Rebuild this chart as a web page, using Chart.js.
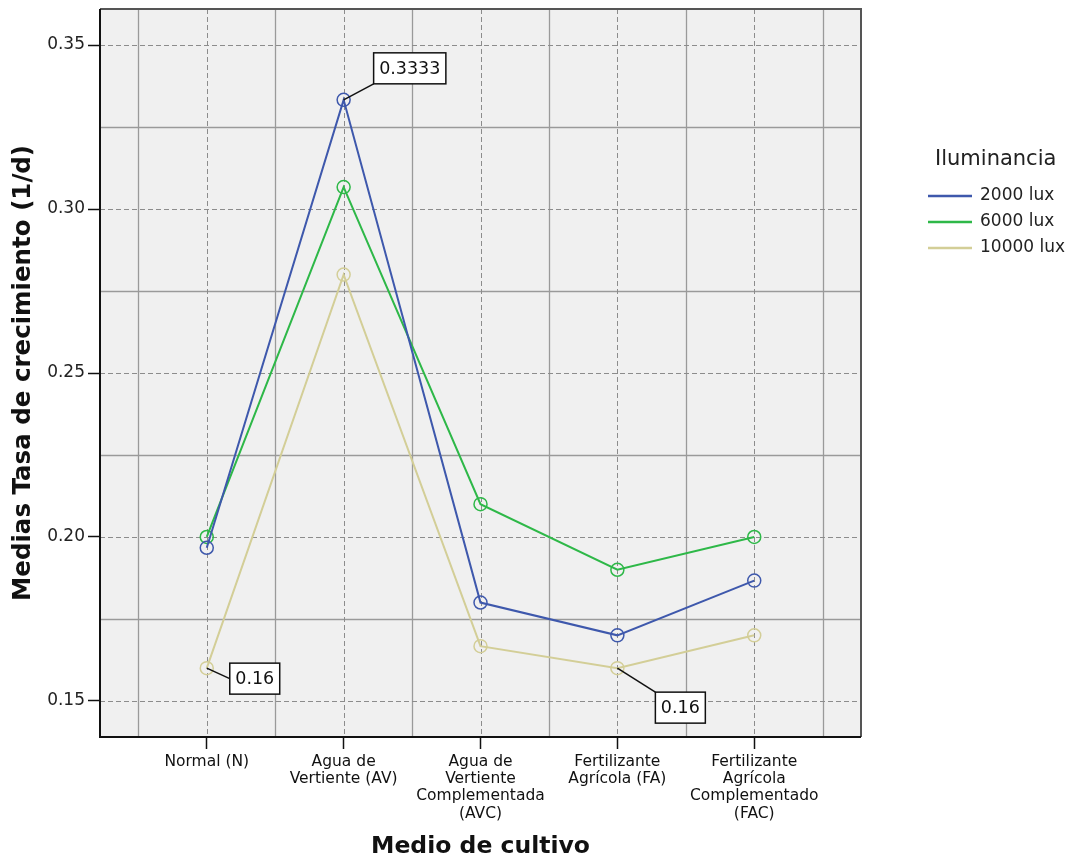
<!DOCTYPE html>
<html>
<head>
<meta charset="utf-8">
<script src="https://cdn.jsdelivr.net/npm/chart.js@4.4.1/dist/chart.umd.min.js"></script>
<style>
  body { margin: 0; background: #ffffff; }
  #wrap { width: 1077px; height: 860px; position: relative; }
</style>
</head>
<body>
<div id="wrap"><canvas id="chart"></canvas></div>
<script>
/* --------------- Data --------------------- */
const categories = [
    ["Normal (N)"],
    ["Agua de", "Vertiente (AV)"],
    ["Agua de", "Vertiente", "Complementada", "(AVC)"],
    ["Fertilizante", "Agrícola (FA)"],
    ["Fertilizante", "Agrícola", "Complementado", "(FAC)"],
];
const seriesNames = ["2000 lux", "6000 lux", "10000 lux"];
const lux2000 = [0.1967, 0.3333, 0.18, 0.17, 0.1867];
const lux6000 = [0.20, 0.3067, 0.21, 0.19, 0.20];
const lux10000 = [0.16, 0.28, 0.1667, 0.16, 0.17];
const yTicks = [0.15, 0.20, 0.25, 0.30, 0.35];
const yMinor = [0.175, 0.225, 0.275, 0.325];
/* labelled points: series index, category index, text */
const callouts = [
    { ds: 0, i: 1, text: "0.3333" },
    { ds: 2, i: 0, text: "0.16" },
    { ds: 2, i: 3, text: "0.16" },
];

/* --------------- Styles --------------------- */
const colors = ["#3e58ac", "#2eb848", "#d3ce97"];
const FONT = "'DejaVu Sans', sans-serif";
/* box offset from the point and where the leader line meets the box */
const calloutPos = [
    { dx: 30, dy: -47, lx: 0, ly: 1 },
    { dx: 23, dy: -5, lx: 0, ly: 0.5 },
    { dx: 38, dy: 24, lx: 0, ly: 0 },
];

const toPoints = (arr) => arr.map((v, i) => ({ x: i, y: v }));
const allSeries = [lux2000, lux6000, lux10000];

/* --------------- Plot background, grid and frame --------------------- */
const spssGrid = {
    id: "spssGrid",
    beforeDatasetsDraw(chart) {
        const { ctx, chartArea: a, scales: { x, y } } = chart;
        ctx.save();
        ctx.fillStyle = "#f0f0f0";
        ctx.fillRect(a.left, a.top, a.right - a.left, a.bottom - a.top);
        // solid lines between categories and half steps
        ctx.strokeStyle = "#9a9a9a";
        ctx.lineWidth = 1.3;
        ctx.setLineDash([]);
        for (let k = -0.5; k <= categories.length - 0.5; k += 1) {
            const px = Math.round(x.getPixelForValue(k)) + 0.5;
            ctx.beginPath(); ctx.moveTo(px, a.top); ctx.lineTo(px, a.bottom); ctx.stroke();
        }
        yMinor.forEach((v) => {
            const py = Math.round(y.getPixelForValue(v)) + 0.5;
            ctx.beginPath(); ctx.moveTo(a.left, py); ctx.lineTo(a.right, py); ctx.stroke();
        });
        // dashed lines at ticks
        ctx.strokeStyle = "#8c8c8c";
        ctx.lineWidth = 1;
        ctx.setLineDash([5, 3]);
        categories.forEach((_, k) => {
            const px = Math.round(x.getPixelForValue(k)) + 0.5;
            ctx.beginPath(); ctx.moveTo(px, a.top); ctx.lineTo(px, a.bottom); ctx.stroke();
        });
        yTicks.forEach((v) => {
            const py = Math.round(y.getPixelForValue(v)) + 0.5;
            ctx.beginPath(); ctx.moveTo(a.left, py); ctx.lineTo(a.right, py); ctx.stroke();
        });
        ctx.restore();
    },
    afterDatasetsDraw(chart) {
        const { ctx, chartArea: a } = chart;
        ctx.save();
        ctx.strokeStyle = "#555555";
        ctx.lineWidth = 2;
        ctx.beginPath(); ctx.moveTo(a.left, a.top); ctx.lineTo(a.right, a.top); ctx.lineTo(a.right, a.bottom); ctx.stroke();
        ctx.strokeStyle = "#111111";
        ctx.beginPath(); ctx.moveTo(a.left, a.top); ctx.lineTo(a.left, a.bottom); ctx.lineTo(a.right, a.bottom); ctx.stroke();

        // value callouts
        ctx.font = "17.5px " + FONT;
        ctx.textBaseline = "middle";
        ctx.textAlign = "center";
        callouts.forEach((c, n) => {
            const pt = chart.getDatasetMeta(c.ds).data[c.i];
            const p = calloutPos[n];
            const w = ctx.measureText(c.text).width + 11;
            const h = 31;
            const bx = pt.x + p.dx, by = pt.y + p.dy;
            ctx.strokeStyle = "#111111";
            ctx.lineWidth = 1.5;
            ctx.beginPath(); ctx.moveTo(pt.x, pt.y); ctx.lineTo(bx + p.lx * w, by + p.ly * h); ctx.stroke();
            ctx.fillStyle = "#ffffff";
            ctx.fillRect(bx, by, w, h);
            ctx.strokeRect(bx, by, w, h);
            ctx.fillStyle = "#111111";
            ctx.fillText(c.text, bx + w / 2, by + h / 2 + 1);
        });
        ctx.restore();
    },
    afterDraw(chart) {
        // legend on the right
        const { ctx } = chart;
        ctx.save();
        ctx.fillStyle = "#222222";
        ctx.textBaseline = "middle";
        ctx.textAlign = "left";
        ctx.font = "21px " + FONT;
        ctx.fillText("Iluminancia", 935, 160);
        ctx.font = "17px " + FONT;
        chart.data.datasets.forEach((ds, k) => {
            const ly = 196 + k * 26;
            ctx.strokeStyle = ds.borderColor;
            ctx.lineWidth = 2.5;
            ctx.beginPath(); ctx.moveTo(928, ly); ctx.lineTo(972, ly); ctx.stroke();
            ctx.fillText(ds.label, 980, ly);
        });
        ctx.restore();
    },
};

/* --------------- Chart --------------------- */
new Chart(document.getElementById("chart"), {
    type: "line",
    plugins: [spssGrid],
    data: {
        datasets: allSeries.map((arr, k) => ({
            label: seriesNames[k],
            data: toPoints(arr),
            borderColor: colors[k],
            backgroundColor: "rgba(0,0,0,0)",
            borderWidth: 2,
            pointRadius: 6.5,
            pointBorderWidth: 1.5,
            pointBackgroundColor: "rgba(0,0,0,0)",
            pointBorderColor: colors[k],
            tension: 0,
        })),
    },
    options: {
        responsive: true,
        maintainAspectRatio: false,
        animation: false,
        layout: { padding: { top: 9, right: 216, left: 0, bottom: 0 } },
        plugins: { legend: { display: false }, tooltip: { enabled: false } },
        scales: {
            x: {
                type: "linear",
                min: -0.78,
                max: categories.length - 1 + 0.78,
                afterBuildTicks: (s) => { s.ticks = categories.map((_, k) => ({ value: k })); },
                afterFit: (s) => { s.height = 123; s.paddingLeft = 0; s.paddingRight = 0; },
                grid: { drawOnChartArea: false, drawTicks: true, tickLength: 12, tickColor: "#111", tickWidth: 1.5 },
                border: { display: false },
                ticks: {
                    autoSkip: false,
                    maxRotation: 0,
                    padding: 4,
                    color: "#111",
                    font: { family: FONT, size: 15.5, lineHeight: 1.12 },
                    callback: (v) => categories[v],
                },
                title: {
                    display: true,
                    text: "Medio de cultivo",
                    color: "#111",
                    font: { family: FONT, size: 23.5, weight: "bold", lineHeight: 1 },
                    padding: { top: 0, bottom: 1 },
                },
            },
            y: {
                min: 0.139,
                max: 0.361,
                afterBuildTicks: (s) => { s.ticks = yTicks.map((v) => ({ value: v })); },
                afterFit: (s) => { s.width = 100; s.paddingTop = 0; s.paddingBottom = 0; },
                grid: { drawOnChartArea: false, drawTicks: true, tickLength: 12, tickColor: "#111", tickWidth: 1.5 },
                border: { display: false },
                ticks: {
                    padding: 3,
                    color: "#222",
                    font: { family: FONT, size: 17 },
                    callback: (v) => v.toFixed(2),
                },
                title: {
                    display: true,
                    text: "Medias Tasa de crecimiento (1/d)",
                    color: "#111",
                    font: { family: FONT, size: 24.5, weight: "bold", lineHeight: 1.2 },
                    padding: { top: 9, bottom: 0 },
                },
            },
        },
    },
});
</script>
</body>
</html>
